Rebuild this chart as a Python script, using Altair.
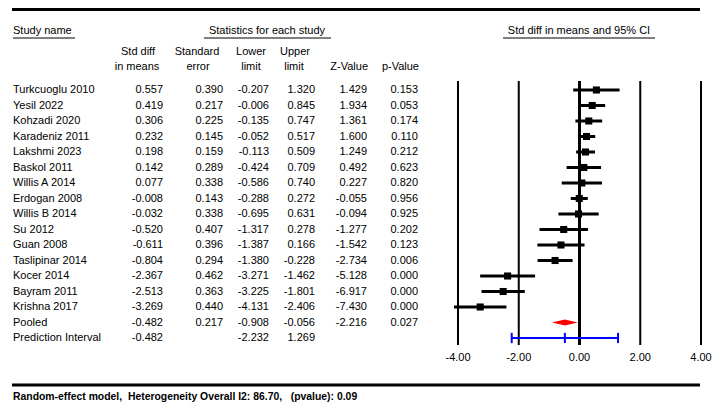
import altair as alt
import pandas as pd

studies = ["Turkcuoglu 2010", "Yesil 2022", "Kohzadi 2020", "Karadeniz 2011", "Lakshmi 2023",
           "Baskol 2011", "Willis A 2014", "Erdogan 2008", "Willis B 2014", "Su 2012",
           "Guan 2008", "Taslipinar 2014", "Kocer 2014", "Bayram 2011", "Krishna 2017",
           "Pooled", "Prediction Interval"]
std_diff = [0.557, 0.419, 0.306, 0.232, 0.198, 0.142, 0.077, -0.008, -0.032, -0.520,
            -0.611, -0.804, -2.367, -2.513, -3.269, -0.482, -0.482]
std_err = [0.390, 0.217, 0.225, 0.145, 0.159, 0.289, 0.338, 0.143, 0.338, 0.407,
           0.396, 0.294, 0.462, 0.363, 0.440, 0.217, None]
lower = [-0.207, -0.006, -0.135, -0.052, -0.113, -0.424, -0.586, -0.288, -0.695, -1.317,
         -1.387, -1.380, -3.271, -3.225, -4.131, -0.908, -2.232]
upper = [1.320, 0.845, 0.747, 0.517, 0.509, 0.709, 0.740, 0.272, 0.631, 0.278,
         0.166, -0.228, -1.462, -1.801, -2.406, -0.056, 1.269]
z_value = [1.429, 1.934, 1.361, 1.600, 1.249, 0.492, 0.227, -0.055, -0.094, -1.277,
           -1.542, -2.734, -5.128, -6.917, -7.430, -2.216, None]
p_value = [0.153, 0.053, 0.174, 0.110, 0.212, 0.623, 0.820, 0.956, 0.925, 0.202,
           0.123, 0.006, 0.000, 0.000, 0.000, 0.027, None]
kind = ["study"] * 15 + ["pooled", "prediction"]
axis_ticks = [-4, -2, 0, 2, 4]
footer = "Random-effect model,\u00a0 Heterogeneity Overall I2: 86.70,\u00a0\u00a0 (pvalue): 0.09"

df = pd.DataFrame({
    "row": list(range(len(studies))), "study": studies, "es": std_diff, "se": std_err,
    "lo": lower, "hi": upper, "z": z_value, "p": p_value, "kind": kind,
})
ticks_df = pd.DataFrame({"t": axis_ticks})

FONT = "Liberation Sans"
FS = 11
OFF = 8  # page margin

yscale = alt.Scale(domain=[0, 16], range=[90 - OFF, 338 - OFF], zero=False, nice=False)
xscale = alt.Scale(domain=[-4, 4], range=[458 - OFF, 701 - OFF], zero=False, nice=False)
Y = alt.Y("row:Q", scale=yscale, axis=None)


def label(text, x, y, align="left", size=FS, weight="normal"):
    return alt.Chart(pd.DataFrame({"t": [text]})).mark_text(
        align=align, baseline="middle", font=FONT, fontSize=size, fontWeight=weight, color="black"
    ).encode(x=alt.value(x - OFF), y=alt.value(y - OFF), text="t:N")


def hline(x1, x2, y, w):
    return alt.Chart(pd.DataFrame({"t": [0]})).mark_rule(color="black", strokeWidth=w).encode(
        x=alt.value(x1 - OFF), x2=alt.value(x2 - OFF), y=alt.value(y - OFF))


base = alt.Chart(df)

layers = []
# frame lines
layers += [hline(12, 700, 9.5, 3), hline(12, 700, 385, 3)]
# headers
layers += [
    label("Study name", 13, 31), hline(13, 75, 38, 1),
    label("Statistics for each study", 267, 31, "center"), hline(204, 331, 38, 1),
    label("Std diff in means and 95% CI", 579, 31, "center"), hline(503, 655, 38, 1),
    label("Std diff", 138, 52, "center"), label("in means", 137, 67, "center"),
    label("Standard", 197, 52, "center"), label("error", 198, 67, "center"),
    label("Lower", 251, 52, "center"), label("limit", 251, 67, "center"),
    label("Upper", 295, 52, "center"), label("limit", 294, 67, "center"),
    label("Z-Value", 368, 67, "right"), label("p-Value", 419, 67, "right"),
    label(footer, 13, 397, size=10.4, weight="bold"),
]

# table columns
txt = dict(baseline="middle", font=FONT, fontSize=FS, color="black")
layers.append(base.mark_text(align="left", **txt).encode(x=alt.value(13 - OFF), y=Y, text="study:N"))
for field, xr in [("es", 163), ("se", 223), ("lo", 269), ("hi", 315), ("z", 367), ("p", 418)]:
    layers.append(
        base.transform_filter(f"isValid(datum.{field})")
        .transform_calculate(lab=f"replace(format(datum.{field}, '.3f'), '\u2212', '-')")
        .mark_text(align="right", **txt).encode(x=alt.value(xr - OFF), y=Y, text="lab:N")
    )

# forest plot gridlines
grid = alt.Chart(ticks_df).encode(
    x=alt.X("t:Q", scale=xscale, axis=None), y=alt.value(81 - OFF), y2=alt.value(345 - OFF))
layers.append(grid.transform_filter("datum.t != 0").mark_rule(color="black", strokeWidth=2))
layers.append(grid.transform_filter("datum.t == 0").mark_rule(color="black", strokeWidth=3))
layers.append(alt.Chart(ticks_df)
              .transform_calculate(lab="replace(format(datum.t, '.2f'), '\u2212', '-')")
              .mark_text(baseline="middle", align="center", font=FONT, fontSize=FS, color="black")
              .encode(x=alt.X("t:Q", scale=xscale, axis=None), y=alt.value(358 - OFF), text="lab:N"))

study_base = base.transform_filter("datum.kind == 'study'")
layers.append(study_base.mark_rule(color="black", strokeWidth=3).encode(
    x=alt.X("lo:Q", scale=xscale, axis=None), x2="hi:Q", y=Y))
layers.append(study_base.mark_square(color="black", size=50, opacity=1).encode(
    x=alt.X("es:Q", scale=xscale, axis=None), y=Y))

# pooled diamond
pooled_pts = (base.transform_filter("datum.kind == 'pooled'")
              .transform_calculate(pts="[datum.lo, datum.es, datum.hi]", hw="[0, 0.19, 0]")
              .transform_flatten(["pts", "hw"])
              .transform_calculate(ya="datum.row - datum.hw", yb="datum.row + datum.hw"))
layers.append(pooled_pts.mark_area(color="red", opacity=1).encode(
    x=alt.X("pts:Q", scale=xscale, axis=None), y=alt.Y("ya:Q", scale=yscale, axis=None), y2="yb:Q"))

# prediction interval
pred = base.transform_filter("datum.kind == 'prediction'")
layers.append(pred.mark_rule(color="blue", strokeWidth=2).encode(
    x=alt.X("lo:Q", scale=xscale, axis=None), x2="hi:Q", y=Y))
caps = (pred.transform_calculate(pts="[datum.lo, datum.es, datum.hi]")
        .transform_flatten(["pts"])
        .transform_calculate(ya="datum.row - 0.33", yb="datum.row + 0.33"))
layers.append(caps.mark_rule(color="blue", strokeWidth=2).encode(
    x=alt.X("pts:Q", scale=xscale, axis=None), y=alt.Y("ya:Q", scale=yscale, axis=None), y2="yb:Q"))

chart = alt.layer(*layers).properties(
    width=704, height=394, padding=0, autosize=alt.AutoSizeParams(type="none"), background="white"
).configure_view(stroke=None)

chart.save("out.html", embed_options={"renderer": "svg", "actions": False})
